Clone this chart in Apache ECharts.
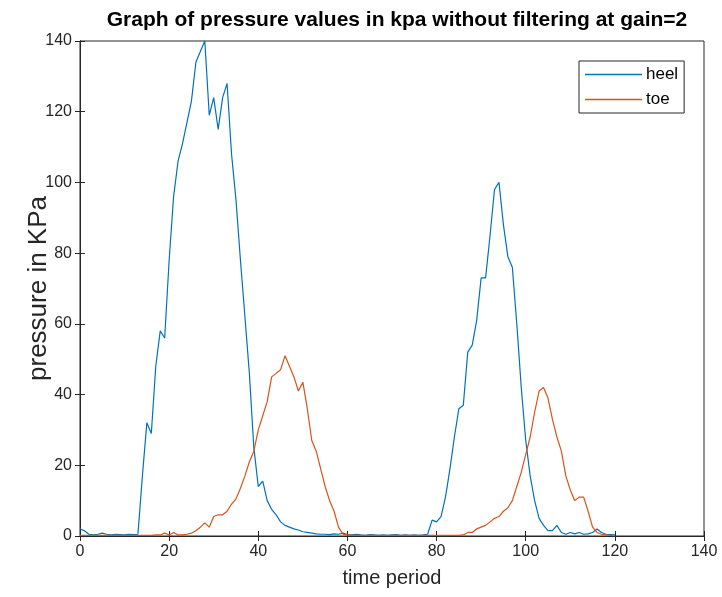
<!DOCTYPE html>
<html>
<head>
<meta charset="utf-8">
<script src="https://cdn.jsdelivr.net/npm/echarts@6/dist/echarts.min.js"></script>
<style>html,body{margin:0;padding:0;background:#fff;}#c{width:722px;height:597px;}</style>
</head>
<body>
<div id="c"></div>
<script>
// time period samples 0..120
const timePeriod = [
  0,1,2,3,4,5,6,7,8,9,10,11,12,13,14,15,16,17,18,19,
  20,21,22,23,24,25,26,27,28,29,30,31,32,33,34,35,36,37,38,39,
  40,41,42,43,44,45,46,47,48,49,50,51,52,53,54,55,56,57,58,59,
  60,61,62,63,64,65,66,67,68,69,70,71,72,73,74,75,76,77,78,79,
  80,81,82,83,84,85,86,87,88,89,90,91,92,93,94,95,96,97,98,99,
  100,101,102,103,104,105,106,107,108,109,110,111,112,113,114,115,116,117,118,119,120
];
const heel = [
  2,1.5,0.5,0.3,0.5,0.8,0.5,0.3,0.5,0.4,0.3,0.5,0.4,0.5,17,32,29,48,58,56,
  78,96,106,111,117,123,134,137,140,119,124,115,124,128,108,95,78,62,46,25,
  14,15.5,10,7.5,6,4,3,2.5,2,1.7,1.2,1,0.8,0.6,0.5,0.5,0.4,0.6,0.5,0.8,
  0.4,0.3,0.5,0.3,0.2,0.4,0.3,0.2,0.3,0.2,0.3,0.4,0.2,0.3,0.2,0.3,0.2,0.3,0.5,4.5,
  4,5.5,11,19,28,36,37,52,54,61,73,73,85,98,100,88,79,76,60,42,
  27,17,10,5,3,1.5,1.5,3,1,0.5,1,0.6,1,0.5,0.6,1,2,1,0.5,0.4,0.3
];
const toe = [
  0.2,0.2,0.2,0.2,0.2,0.2,0.2,0.2,0.2,0.2,0.2,0.2,0.2,0.2,0.2,0.2,0.2,0.3,0.3,0.8,
  0.3,1,0.3,0.3,0.5,0.8,1.5,2.5,3.7,2.5,5.5,6,6,7,9,10.5,13.5,17,21,24,
  30,34,38,45,46,47,51,48,45,41,43.5,36,27,24,19,14,10,7,2.5,0.5,
  0.3,0.2,0.2,0.2,0.2,0.2,0.2,0.2,0.2,0.2,0.2,0.2,0.2,0.2,0.2,0.2,0.2,0.2,0.2,0.2,
  0.2,0.2,0.2,0.2,0.2,0.2,0.3,1,1,2,2.5,3,4,5,5.5,7,8,10,14,18,
  23,28,35,41,42,39,33,28,24,17,13,10,11,11,7,2.5,1,0.5,0.3,0.2,0
];
const xTicks = [0,20,40,60,80,100,120,140];
const yTicks = [0,20,40,60,80,100,120,140];

const axisColor = '#262626';
const font = 'Liberation Sans, Arial, Helvetica, sans-serif';
const pairs = (ys) => timePeriod.map((t, i) => [t, ys[i]]);

const chart = echarts.init(document.getElementById('c'), null, {renderer: 'canvas'});
chart.setOption({
  animation: false,
  backgroundColor: '#ffffff',
  title: {
    text: 'Graph of pressure values in kpa without filtering at gain=2',
    left: 392, top: 5, textAlign: 'center',
    textStyle: {fontFamily: font, fontSize: 21, fontWeight: 'bold', color: '#000'}
  },
  grid: {left: 80, top: 41, right: 18, bottom: 61, show: true, borderColor: axisColor, borderWidth: 1},
  legend: {
    left: 579, top: 61, orient: 'vertical',
    backgroundColor: '#fff',
    borderColor: axisColor, borderWidth: 1, borderRadius: 0,
    padding: [5, 6, 5, 6], itemGap: 8, itemWidth: 57, itemHeight: 1.5,
    icon: 'rect',
    textStyle: {fontFamily: font, fontSize: 17, color: '#000', padding: [0, 0, 0, -1]},
    data: ['heel', 'toe']
  },
  xAxis: [{
    type: 'value', min: xTicks[0], max: xTicks[xTicks.length - 1], interval: 20,
    name: 'time period', nameLocation: 'middle', nameGap: 32, nameMoveOverlap: false,
    nameTextStyle: {fontFamily: font, fontSize: 20, color: axisColor},
    axisLine: {show: true, onZero: false, lineStyle: {color: axisColor}},
    axisTick: {show: true, inside: true, length: 5, lineStyle: {color: axisColor}},
    axisLabel: {fontFamily: font, fontSize: 16, color: axisColor, margin: 8},
    splitLine: {show: false}
  }, {
    type: 'value', position: 'top', min: 0, max: 140, interval: 20,
    axisLine: {show: true, lineStyle: {color: axisColor}},
    axisTick: {show: true, inside: true, length: 5, lineStyle: {color: axisColor}},
    axisLabel: {show: false}, splitLine: {show: false}
  }],
  yAxis: [{
    type: 'value', min: yTicks[0], max: yTicks[yTicks.length - 1], interval: 20,
    name: 'pressure in KPa', nameLocation: 'middle', nameGap: 28, nameMoveOverlap: false,
    nameTextStyle: {fontFamily: font, fontSize: 26, color: axisColor},
    axisLine: {show: true, onZero: false, lineStyle: {color: axisColor}},
    axisTick: {show: true, inside: true, length: 5, lineStyle: {color: axisColor}},
    axisLabel: {fontFamily: font, fontSize: 16, color: axisColor, margin: 8},
    splitLine: {show: false}
  }, {
    type: 'value', position: 'right', min: 0, max: 140, interval: 20,
    axisLine: {show: true, lineStyle: {color: axisColor}},
    axisTick: {show: true, inside: true, length: 5, lineStyle: {color: axisColor}},
    axisLabel: {show: false}, splitLine: {show: false}
  }],
  series: [{
    name: 'heel', type: 'line', data: pairs(heel), symbol: 'none',
    lineStyle: {color: '#0072BD', width: 1.2}, itemStyle: {color: '#0072BD'}
  }, {
    name: 'toe', type: 'line', data: pairs(toe), symbol: 'none',
    lineStyle: {color: '#D95319', width: 1.2}, itemStyle: {color: '#D95319'}
  }]
});
</script>
</body>
</html>
